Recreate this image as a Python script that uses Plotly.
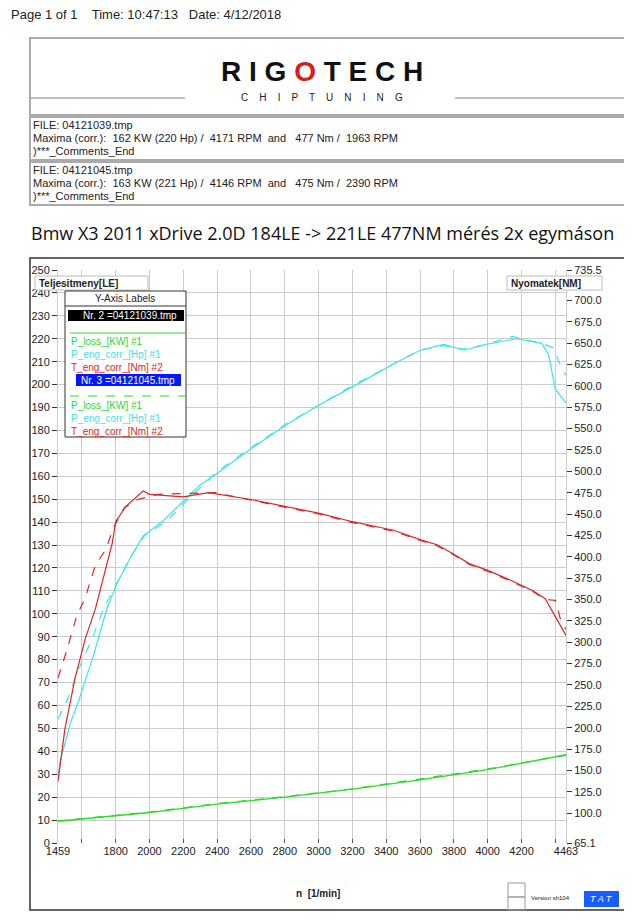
import plotly.graph_objects as go

# ---- data ----
r1_pow_rpm = [1459,1473,1531,1590,1669,1747,1806,1884,1963,2080,2198,2296,2394,2600,2800,3000,3200,3443,3600,3740,3860,3990,4171,4320,4360,4400,4463]
r1_pow_hp  = [28,36,52,64,82,102,113,124,134,140.5,149,156,161,172,182,191,199,209,215,217.5,215,217.5,220,218,213,198,192]
r2_pow_rpm = [1459,1518,1576,1665,1733,1812,1890,1968,2105,2200,2400,2600,2800,3000,3200,3443,3600,3740,3860,3990,4146,4320,4390,4420,4463]
r2_pow_hp  = [54,63,75,90,103,114,125,134,140.5,148,162,172.5,182.5,191,199.5,209,215,217,215.5,217.5,221,218,216,210,204]
r1_tq_rpm = [1459,1500,1560,1620,1680,1740,1780,1800,1860,1963,2000,2200,2350,2600,2800,3000,3200,3443,3600,3700,3800,3890,4000,4130,4270,4340,4400,4463]
r1_tq_nm  = [137,199,258,304,339,387,416,441,459,477,473,470,475,467,459,451,441,431,420,414,403,392,384,373,360,351,330,308]
r2_tq_rpm = [1459,1510,1570,1620,1680,1740,1790,1850,1930,2050,2390,2600,2800,3000,3200,3443,3600,3700,3800,3890,4000,4130,4270,4340,4400,4430,4463]
r2_tq_nm  = [258,290,331,352,390,408,435,457,467,473,475,466,458,450,440,430,419,413,402,391,383,372,359,350,349,327,315]
loss_rpm = [1459,1800,2000,2400,2800,3200,3600,4000,4463]
r1_loss_kw = [9.5,11.8,13.3,17,20,23.5,27.5,32,38.5]
r2_loss_kw = [9.6,11.9,13.5,17.2,20.2,23.6,27.8,32.3,38.3]
left_ticks = list(range(0, 251, 10))
right_ticks = [65.1] + list(range(100, 701, 25)) + [735.5]
x_ticks = [1459,1600,1800,2000,2200,2400,2600,2800,3000,3200,3400,3600,3800,4000,4200,4400,4463]
x_text = ["1459",""] + [str(v) for v in x_ticks[2:-2]] + ["","4463"]

CY, RD, GR = "#3fe3e8", "#d42a2a", "#2fd82f"
PAD = 8  # page body margin
W, H = 632 - 2 * PAD, 922 - 2 * PAD
L, R, T, B = 58, 566, 270, 843   # page coordinates of plot area
def px(x): return (x - L) / (R - L)
def py(y): return (B - y) / (B - T)

fig = go.Figure()
fig.add_trace(go.Scatter(x=loss_rpm, y=r1_loss_kw, mode="lines", line=dict(color=GR, width=1.3)))
fig.add_trace(go.Scatter(x=loss_rpm, y=r2_loss_kw, mode="lines", line=dict(color=GR, width=1.3, dash="dash")))
fig.add_trace(go.Scatter(x=r1_pow_rpm, y=r1_pow_hp, mode="lines", line=dict(color=CY, width=1.2)))
fig.add_trace(go.Scatter(x=r2_pow_rpm, y=r2_pow_hp, mode="lines", line=dict(color=CY, width=1.2, dash="dash")))
fig.add_trace(go.Scatter(x=r1_tq_rpm, y=r1_tq_nm, yaxis="y2", mode="lines", line=dict(color=RD, width=1.2)))
fig.add_trace(go.Scatter(x=r2_tq_rpm, y=r2_tq_nm, yaxis="y2", mode="lines", line=dict(color=RD, width=1.2, dash="dash")))

F = "Liberation Sans"
fig.update_layout(
    width=W, height=H, showlegend=False, paper_bgcolor="white", plot_bgcolor="white",
    margin=dict(l=L - PAD, r=632 - PAD - R, t=T - PAD, b=922 - PAD - B, pad=0),
    font=dict(family=F, size=11, color="#222"),
    xaxis=dict(range=[1459, 4463], tickvals=x_ticks, ticktext=x_text, showgrid=True,
               gridcolor="#cccccc", ticks="inside", ticklen=4, tickcolor="#555", zeroline=False,
               showline=False, tickfont=dict(size=11)),
    yaxis=dict(range=[0, 250], tickvals=left_ticks, ticktext=[f"{v}" for v in left_ticks],
               showgrid=True, gridcolor="#cccccc", ticks="outside", ticklen=5, tickcolor="#333",
               zeroline=False, showline=True, linecolor="#cccccc", tickfont=dict(size=11)),
    yaxis2=dict(range=[65.1, 735.5], overlaying="y", side="right", tickvals=right_ticks,
                ticktext=[f"{v:.1f}" for v in right_ticks], showgrid=False, ticks="outside",
                ticklen=5, tickcolor="#333", zeroline=False, showline=True, linecolor="#cccccc",
                tickfont=dict(size=11)),
)

def rect(x0, y0, x1, y1, color="#999", width=1, fill=None):
    fig.add_shape(type="rect", xref="paper", yref="paper", x0=px(x0), x1=px(x1), y0=py(y1), y1=py(y0),
                  line=dict(color=color, width=width), fillcolor=fill, layer="above")
def line(x0, y0, x1, y1, color="#999", width=1, dash=None):
    fig.add_shape(type="line", xref="paper", yref="paper", x0=px(x0), x1=px(x1), y0=py(y0), y1=py(y1),
                  line=dict(color=color, width=width, dash=dash), layer="above")
def text(x, y, s, size=11, color="#222", anchor="left", family=F, bg=None):
    fig.add_annotation(xref="paper", yref="paper", x=px(x), y=py(y), text=s, showarrow=False,
                       xanchor=anchor, yanchor="middle", font=dict(size=size, color=color, family=family),
                       bgcolor=bg, borderpad=0)

# header
text(10, 14, "Page 1 of 1    Time: 10:47:13   Date: 4/12/2018", size=13)
rect(30, 38, 626, 115, "#aaa", 2)
rect(30, 117, 626, 160, "#aaa", 2)
rect(30, 162, 626, 205, "#aaa", 2)
text(322, 72, "<b>R I G <span style='color:#d42020'>O</span> T E C H</b>", size=28, anchor="center", color="#111", family="Liberation Sans")
text(322, 97, "C    H    I    P    T    U    N    I    N    G", size=10, anchor="center")
line(31, 98, 185, 98, "#aaa", 1.5)
line(455, 98, 625, 98, "#aaa", 1.5)
for i, (fn, mx) in enumerate([("04121039.tmp", "162 KW (220 Hp) /  4171 RPM  and   477 Nm /  1963 RPM"),
                               ("04121045.tmp", "163 KW (221 Hp) /  4146 RPM  and   475 Nm /  2390 RPM")]):
    y0 = 125 + i * 45
    text(32, y0, f"FILE: {fn}", size=11)
    text(32, y0 + 13, f"Maxima (corr.):  {mx}", size=11)
    text(32, y0 + 26, ")***_Comments_End", size=11)

text(322, 233, "Bmw X3 2011 xDrive 2.0D 184LE -&gt; 221LE 477NM mérés 2x egymáson", size=18, anchor="center", family="Open Sans", color="#111")

# chart frame
rect(30, 258, 626, 910, "#333", 1.5)
rect(35, 276, 148, 290, "#bbb", 1, "white")
text(38, 283, "<b>Teljesitmeny[LE]</b>", size=10)
rect(507, 276, 602, 290, "#bbb", 1, "white")
text(510, 283, "<b>Nyomatek[NM]</b>", size=10)

# Y-axis labels box
rect(65, 291, 186, 437, "#333", 1, "white")
line(65, 306, 186, 306, "#333", 1)
text(125, 298, "Y-Axis Labels", size=10, anchor="center")
rect(68, 310, 184, 321, "black", 0, "black")
text(82, 315.5, "Nr. 2 =04121039.tmp", size=10, color="white")
line(70, 333, 186, 333, GR, 1)
text(70, 341, "P_loss_[KW] #1", size=10, color=GR)
text(70, 354, "P_eng_corr_[Hp] #1", size=10, color=CY)
text(70, 367, "T_eng_corr_[Nm] #2", size=10, color=RD)
rect(76, 374, 181, 386, "#0018ff", 0, "#0018ff")
text(80, 380, "Nr. 3 =04121045.tmp", size=10, color="white")
line(70, 396, 186, 396, GR, 1, "dash")
text(70, 405, "P_loss_[KW] #1", size=10, color=GR)
text(70, 418, "P_eng_corr_[Hp] #1", size=10, color=CY)
text(70, 431, "T_eng_corr_[Nm] #2", size=10, color=RD)

# x title and footer
text(318, 893, "<b>n  [1/min]</b>", size=10, anchor="center")
rect(508, 883, 525, 897, "#999", 1)
rect(508, 897, 525, 910, "#999", 1)
text(530, 898, "Version sh104", size=6)
rect(584, 891, 619, 907, "#1a5cff", 0, "#1a5cff")
text(601.5, 899, "<i>T A T</i>", size=9, color="white", anchor="center")

fig.write_html("out.html")
